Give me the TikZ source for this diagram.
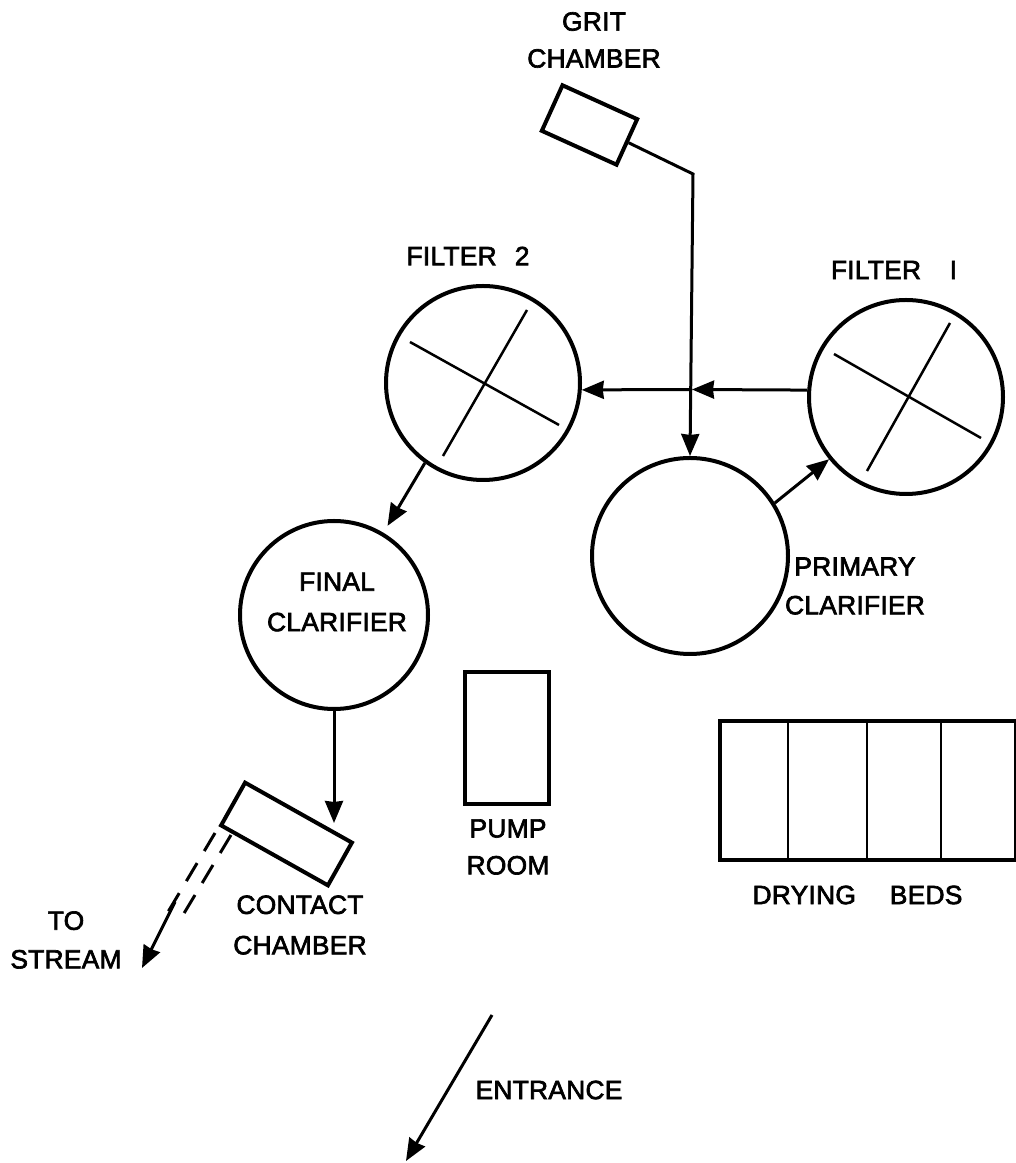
\documentclass[tikz,border=0pt]{standalone}
\usepackage{fontspec}
\setmainfont{Liberation Sans}
\newfontfamily\lblfont{Liberation Sans}[FakeBold=2.5, LetterSpace=1]
\usetikzlibrary{arrows.meta, calc}

\begin{document}
\begin{tikzpicture}[
    x=1cm, y=1cm,
    tank/.style={draw, circle, line width=0.8mm, inner sep=0pt},
    basin/.style={draw, rectangle, line width=0.8mm, inner sep=0pt},
    arm/.style={line width=0.5mm},
    sig/.style={-{Stealth[length=0.44cm, width=0.36cm, inset=0.02cm]}, line width=0.6mm},
    pipe/.style={line width=0.6mm, dash pattern=on 0.42cm off 0.28cm},
    lbl/.style={font=\lblfont\fontsize{15}{21}\selectfont, inner sep=0pt, align=center},
]
\useasboundingbox (0,0) rectangle (20.32,23.26);

% ===================== Tanks =====================
\node[tank, minimum size=3.88cm] (filtertwo) at (9.66,15.60) {};
\node[tank, minimum size=3.88cm] (filterone) at (18.12,15.32) {};
\node[tank, minimum size=3.92cm] (primary) at (13.80,12.14) {};
\node[tank, minimum size=3.76cm] (final) at (6.68,10.96) {};

\draw[arm] ($(filtertwo)+(-1.46,0.82)$) -- ($(filtertwo)+(1.52,-0.84)$);
\draw[arm] ($(filtertwo)+(0.88,1.46)$) -- ($(filtertwo)+(-0.80,-1.46)$);
\draw[arm] ($(filterone)+(-1.44,0.86)$) -- ($(filterone)+(1.50,-0.82)$);
\draw[arm] ($(filterone)+(0.88,1.48)$) -- ($(filterone)+(-0.78,-1.48)$);

% ===================== Chambers and buildings =====================
\node[basin, rotate=-24.4, minimum width=1.64cm, minimum height=1.00cm] (grit) at (11.79,20.76) {};
\node[basin, rotate=-29.3, minimum width=2.45cm, minimum height=0.98cm] (contact) at (5.73,6.58) {};
\node[basin, minimum width=1.68cm, minimum height=2.64cm] (pump) at (10.14,8.50) {};
\node[basin, minimum width=5.92cm, minimum height=2.78cm] (beds) at (17.36,7.45) {};

\foreach \x in {15.76, 17.34, 18.82} {
    \draw[arm] (\x,8.84) -- (\x,6.06);
}

% ===================== Flow =====================
\coordinate (gritbend) at (13.86,19.78);
\coordinate (junction) at (13.84,15.47);
\coordinate (contactin) at (6.68,6.80);

\draw[sig] (grit.east) -- (gritbend) -- (primary.north);
\draw[sig] (primary.32) -- (filterone.219);
\draw[sig] (filterone.176) -- (junction);
\draw[sig] (junction) -- (filtertwo.356);
\draw[sig, shorten >=0.16cm] (filtertwo.234) -- (final.59);
\draw[sig] (final.south) -- (contactin);

% ===================== To stream =====================
\coordinate (pipeleft) at (4.30,6.60);
\coordinate (pipeleftend) at (3.36,5.02);
\coordinate (piperight) at (4.62,6.56);
\coordinate (piperightend) at (3.60,4.86);
\coordinate (streamfrom) at (3.50,5.22);
\coordinate (streamto) at (2.84,3.90);

\draw[pipe] (pipeleft) -- (pipeleftend);
\draw[pipe] (piperight) -- (piperightend);
\draw[sig] (streamfrom) -- (streamto);

% ===================== Entrance =====================
\coordinate (entrancefrom) at (9.84,2.96);
\coordinate (entranceto) at (8.12,0.04);
\draw[sig] (entrancefrom) -- (entranceto);

% ===================== Labels =====================
\node[lbl] (gritlbl) at (11.88,22.46) {GRIT\\CHAMBER};
\node[lbl] (filtertwolbl) at (9.36,18.14) {FILTER\hspace{0.4em} 2};
\node[lbl] (filteronelbl) at (17.88,17.86) {FILTER\hspace{0.8em} I};
\node[lbl] (finallbl) at (6.74,11.22) {FINAL\\[2pt]CLARIFIER};
\node[lbl] (primarylbl) at (17.10,11.54) {PRIMARY\\[1pt]CLARIFIER};
\node[lbl] (pumplbl) at (10.16,6.32) {PUMP\\ROOM};
\node[lbl] (contactlbl) at (6.00,4.76) {CONTACT\\[2pt]CHAMBER};
\node[lbl] (streamlbl) at (1.32,4.46) {TO\\[1pt]STREAM};
\node[lbl] (bedslbl) at (17.15,5.36) {DRYING\hspace{1em} BEDS};
\node[lbl] (entrancelbl) at (10.98,1.46) {ENTRANCE};

\end{tikzpicture}
\end{document}
